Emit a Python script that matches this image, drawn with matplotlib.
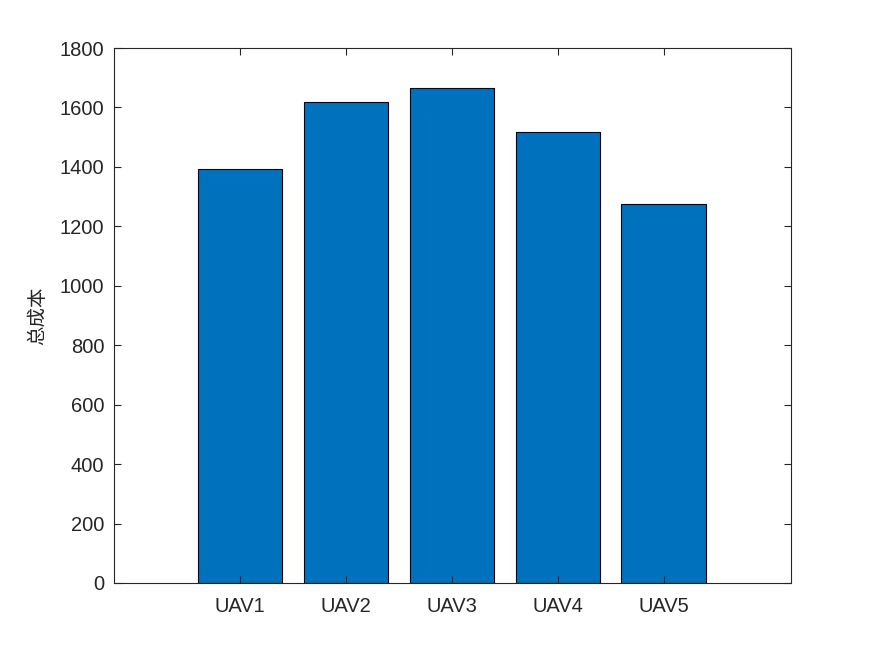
import matplotlib
matplotlib.use("Agg")
import matplotlib.pyplot as plt

# total cost per UAV
labels = ["UAV1", "UAV2", "UAV3", "UAV4", "UAV5"]
costs = [1394, 1617, 1667, 1519, 1276]
yticks = list(range(0, 1801, 200))

plt.rcParams['font.family'] = ['Arial', 'Liberation Sans', 'DejaVu Sans']

fig = plt.figure(figsize=(8.75, 6.56), dpi=100)
ax = fig.add_axes([0.1303, 0.1113, 0.7737, 0.8155])

pos = list(range(1, len(labels) + 1))
ax.bar(pos, costs, width=0.8, color="#0072BD", edgecolor="black", linewidth=0.8)

ax.set_xlim(-0.19, 6.2)
ax.set_ylim(0, 1800)
ax.set_xticks(pos)
ax.set_xticklabels(labels)
ax.set_yticks(yticks)
ax.tick_params(direction="in", length=5, width=0.8, labelsize=14.5, colors="#262626",
               top=True, right=True)
ax.tick_params(axis="y", pad=7)
ax.tick_params(axis="x", pad=10)
for sp in ax.spines.values():
    sp.set_linewidth(0.8)
    sp.set_color("#262626")

ax.set_ylabel("总成本", fontsize=14, family=["Noto Sans CJK SC", "DejaVu Sans"],
              color="#262626")
ax.yaxis.set_label_coords(-0.098, 0.5)

fig.savefig("out.png", dpi=100)
